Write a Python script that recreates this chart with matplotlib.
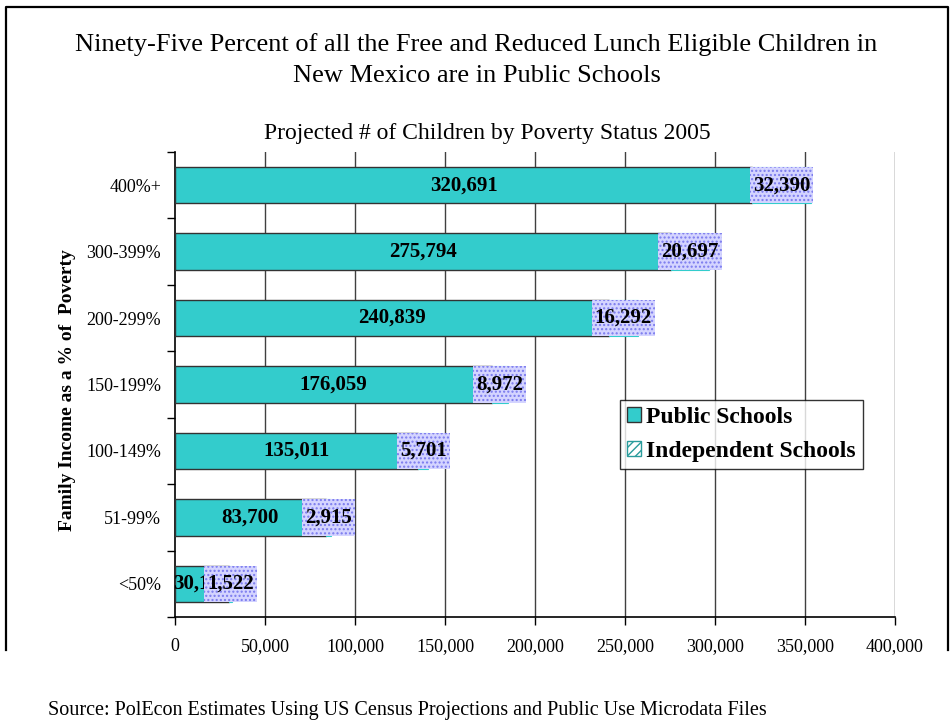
import numpy as np
import matplotlib.pyplot as plt
from matplotlib.patches import Rectangle, Patch
from matplotlib.lines import Line2D

plt.rcParams['font.family'] = ['Liberation Serif', 'DejaVu Serif']

# income bands, bottom to top
bands = ['<50%', '51-99%', '100-149%', '150-199%', '200-299%', '300-399%', '400%+']
public = [30143, 83700, 135011, 176059, 240839, 275794, 320691]
independent = [1522, 2915, 5701, 8972, 16292, 20697, 32390]
xticks = [0, 50000, 100000, 150000, 200000, 250000, 300000, 350000, 400000]

teal = '#33cccc'
bar_h = 0.55

fig = plt.figure(figsize=(9.53, 7.21), dpi=100)
ax = fig.add_axes([175/953, 1 - 617/721, 720/953, 465/721])

y = np.arange(len(bands))
ax.barh(y, public, height=bar_h, color=teal, edgecolor='#333333', linewidth=1, zorder=3)
ax.barh(y, independent, left=public, height=bar_h, color='white', edgecolor=teal,
        hatch='////', linewidth=0.8, zorder=3)

ax.set_xlim(0, 400000)
ax.set_ylim(-0.5, len(bands) - 0.5)
ax.set_xticks(xticks)
ax.set_xticklabels([f'{v:,}' for v in xticks], fontsize=13)
ax.set_yticks(y)
ax.set_yticklabels(bands, fontsize=13)
ax.set_yticks(np.arange(len(bands) + 1) - 0.5, minor=True)
ax.tick_params(axis='y', which='major', length=0, pad=10)
ax.tick_params(axis='y', which='minor', length=6, width=1, direction='out')
ax.tick_params(axis='x', length=6, width=1, direction='out', pad=9)
for x in xticks[1:]:
    ax.axvline(x, color='#404040', lw=1, zorder=1)
for s in ['top', 'right']:
    ax.spines[s].set_visible(False)
for s in ['left', 'bottom']:
    ax.spines[s].set_linewidth(1.2)

ax.set_ylabel('Family Income as a % of  Poverty', fontsize=14, fontweight='bold')
ax.yaxis.set_label_coords(-0.137, 0.488)

# public values in the middle of the teal segment
for yi, p in zip(y, public):
    ax.text(p / 2, yi, f'{p:,}', ha='center', va='center', fontsize=15,
            fontweight='bold', zorder=5)

# independent values sit on a patterned label box over the end of the bar
fig.canvas.draw()
rend = fig.canvas.get_renderer()
inv = ax.transData.inverted()
for yi, p, q in zip(y, public, independent):
    cx = p + q / 2
    t = ax.text(cx, yi, f'{q:,}', ha='center', va='center', fontsize=15,
                fontweight='bold', zorder=7)
    bb = t.get_window_extent(rend)
    (x0, _), (x1, _) = inv.transform([(bb.x0 - 3, 0), (bb.x1 + 3, 0)])
    ax.add_patch(Rectangle((x0, yi - bar_h / 2), x1 - x0, bar_h,
                           facecolor='#d4d4ff', edgecolor='#7a7aee', hatch='....',
                           linewidth=0, zorder=6))

handles = [Patch(facecolor=teal, edgecolor='#333333', label='Public Schools'),
           Patch(facecolor='white', edgecolor='#2a9c9c', hatch='////', label='Independent Schools')]
leg = ax.legend(handles=handles, loc='upper left', bbox_to_anchor=(445/720, 1 - 248/465),
                prop={'weight': 'bold', 'size': 17}, frameon=True,
                fancybox=False, edgecolor='black', handlelength=0.6, handleheight=0.6,
                handletextpad=0.2, borderpad=0.3, labelspacing=0.55, borderaxespad=0)
leg.get_frame().set_linewidth(1)
leg.set_zorder(8)

fig.text(0.5, 1 - 45/721, 'Ninety-Five Percent of all the Free and Reduced Lunch Eligible Children in',
         ha='center', va='center', fontsize=19)
fig.text(0.5, 1 - 76/721, 'New Mexico are in Public Schools', ha='center', va='center', fontsize=19)
fig.text(487/953, 1 - 133/721, 'Projected # of Children by Poverty Status 2005',
         ha='center', va='center', fontsize=17)
fig.text(48/953, 1 - 711/721,
         'Source: PolEcon Estimates Using US Census Projections and Public Use Microdata Files',
         ha='left', va='center', fontsize=14.5)

# slide frame
fx = [6/953, 6/953, 948/953, 948/953]
fy = [1 - 650/721, 1 - 7/721, 1 - 7/721, 1 - 650/721]
fig.add_artist(Line2D(fx, fy, color='black', lw=1.6))

fig.savefig('out.png', dpi=100)
